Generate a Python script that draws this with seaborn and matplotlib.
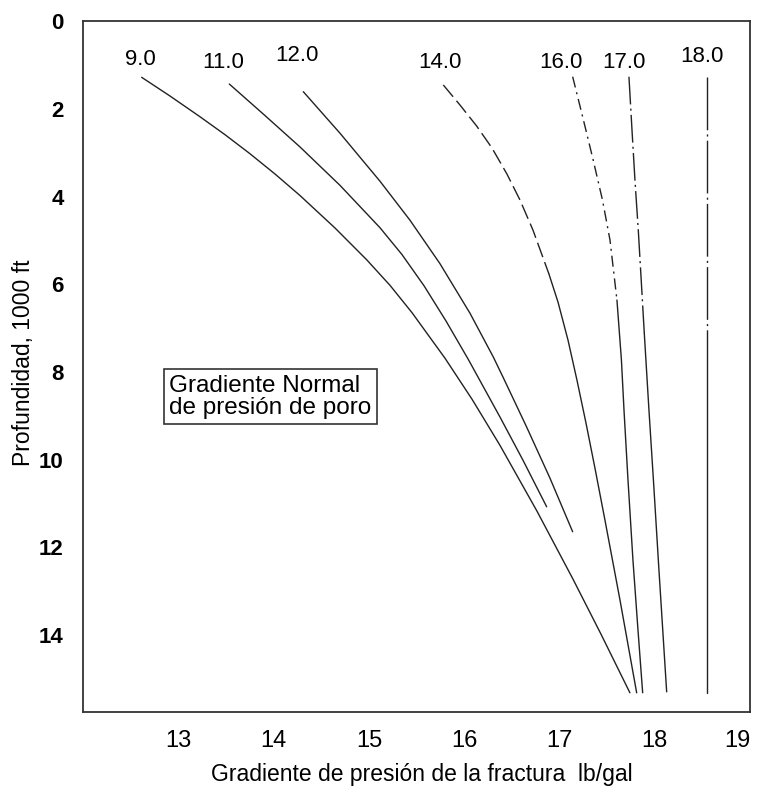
import matplotlib
matplotlib.use("Agg")
import matplotlib.pyplot as plt
import seaborn as sns
import pandas as pd

sns.set_theme(style="white")
plt.rcParams["font.family"] = ["Liberation Sans", "DejaVu Sans"]

# ---- data (fracture gradient lb/gal vs depth in 1000 ft) ----
grad_90 = [12.613, 12.910, 13.225, 13.488, 13.750, 14.013, 14.275, 14.643, 14.975,
           15.220, 15.451, 15.797, 16.081, 16.375, 16.763, 17.141, 17.435, 17.739]
depth_90 = [1.278, 1.704, 2.177, 2.587, 3.021, 3.484, 3.974, 4.716, 5.439,
            6.023, 6.646, 7.684, 8.620, 9.674, 11.173, 12.724, 13.979, 15.318]

grad_110 = [13.533, 13.906, 14.275, 14.695, 15.115, 15.346, 15.577, 15.808, 16.042,
            16.375, 16.616, 16.865]
depth_110 = [1.431, 2.147, 2.866, 3.742, 4.709, 5.321, 6.032, 6.836, 7.712,
             9.028, 10.011, 11.075]

grad_120 = [14.310, 14.695, 15.115, 15.430, 15.745, 16.060, 16.305, 16.409, 16.648, 16.899, 17.138]
depth_120 = [1.606, 2.553, 3.648, 4.538, 5.530, 6.660, 7.659, 8.127, 9.224, 10.418, 11.645]

grad_140 = [15.780, 15.955, 16.130, 16.291, 16.448, 16.585, 16.721, 16.889, 16.984,
            17.089, 17.183, 17.278, 17.372, 17.477, 17.635, 17.810]
depth_140 = [1.453, 1.910, 2.389, 2.891, 3.484, 4.077, 4.762, 5.765, 6.404,
             7.271, 8.184, 9.165, 10.192, 11.378, 13.203, 15.318]

grad_160 = [17.138, 17.246, 17.351, 17.451, 17.530, 17.603, 17.650, 17.677, 17.719, 17.771, 17.824, 17.873]
depth_160 = [1.264, 2.206, 3.142, 4.077, 4.990, 6.359, 7.728, 8.868, 10.466, 12.291, 13.888, 15.318]

grad_170 = [17.729, 17.761, 17.792, 17.827, 17.862, 17.890, 17.939, 17.986, 18.044, 18.125]
depth_170 = [1.264, 2.480, 3.621, 4.762, 6.062, 7.112, 8.868, 10.466, 12.519, 15.296]

grad_180 = [18.545, 18.545, 18.545]
depth_180 = [1.264, 7.310, 15.318]

# depth where each curve changes from broken to solid line (0 = solid all the way)
curve_names = ["9.0", "11.0", "12.0", "14.0", "16.0", "17.0", "18.0"]
solid_from = [0, 0, 0, 5.765, 6.359, 7.112, 7.310]

label_x = [12.60, 13.47, 14.24, 15.74, 17.02, 17.68, 18.50]
label_y = [0.88, 0.93, 0.77, 0.93, 0.93, 0.93, 0.81]

x_ticks = [13, 14, 15, 16, 17, 18, 19]
y_ticks = [0, 2, 4, 6, 8, 10, 12, 14]

box_text = "Gradiente Normal\nde presión de poro"
x_label = "Gradiente de presión de la fractura  lb/gal"
y_label = "Profundidad, 1000 ft"

# ---- styles ----
broken_styles = {
    "14.0": (0, (11, 3.8)),
    "16.0": (0, (8, 3.5, 1.5, 3.5)),
    "17.0": (0, (20, 3, 1.5, 3)),
    "18.0": (0, (38, 3, 1.5, 3)),
}
line_color = "#222222"
lw = 1.0

fig = plt.figure(figsize=(7.6, 7.87), dpi=100)
ax = fig.add_axes([83.3 / 760, 1 - 711.7 / 787, (750 - 83.3) / 760, (711.7 - 21.3) / 787])

curves = [(grad_90, depth_90), (grad_110, depth_110), (grad_120, depth_120),
          (grad_140, depth_140), (grad_160, depth_160), (grad_170, depth_170),
          (grad_180, depth_180)]

for name, (g, d), t in zip(curve_names, curves, solid_from):
    df = pd.DataFrame({"grad": g, "depth": d})
    if t > 0:
        broken = df[df["depth"] <= t]
        solid = df[df["depth"] >= t]
        sns.lineplot(data=broken, x="grad", y="depth", ax=ax, estimator=None,
                     sort=False, color=line_color, lw=lw,
                     linestyle=broken_styles[name])
    else:
        solid = df
    sns.lineplot(data=solid, x="grad", y="depth", ax=ax, estimator=None,
                 sort=False, color=line_color, lw=lw, linestyle="-")

for name, lx, ly in zip(curve_names, label_x, label_y):
    ax.text(lx, ly, name, ha="center", va="center", fontsize=16, color="#000000")

ax.text(12.90, 8.06, box_text, ha="left", va="top", fontsize=17.5, color="#000000",
        linespacing=1.0,
        bbox=dict(boxstyle="square,pad=0.22", fc="white", ec="#333333", lw=1.2))

ax.set_xlim(12, 19)
ax.set_ylim(15.75, 0)
ax.set_xticks(x_ticks)
ax.set_yticks(y_ticks)
ax.set_xticklabels([str(v) for v in x_ticks], fontsize=17)
ax.set_yticklabels([str(v) for v in y_ticks], fontsize=16, fontweight="bold")
ax.get_xticklabels()[-1].set_ha("right")
ax.tick_params(axis="both", direction="in", length=9.5, width=1.1, color="#333333",
               labelcolor="#000000")
ax.tick_params(axis="x", pad=13)
ax.tick_params(axis="y", pad=14)
for s in ax.spines.values():
    s.set_color("#333333")
    s.set_linewidth(1.3)
    s.set_visible(True)

ax.set_xlabel(x_label, fontsize=16.5, color="#000000")
ax.set_ylabel(y_label, fontsize=16.5, color="#000000")
ax.xaxis.set_label_coords(0.508, -0.074)
ax.yaxis.set_label_coords(-0.072, 0.505)
ax.grid(False)

fig.savefig("out.png", dpi=100, facecolor="white")
